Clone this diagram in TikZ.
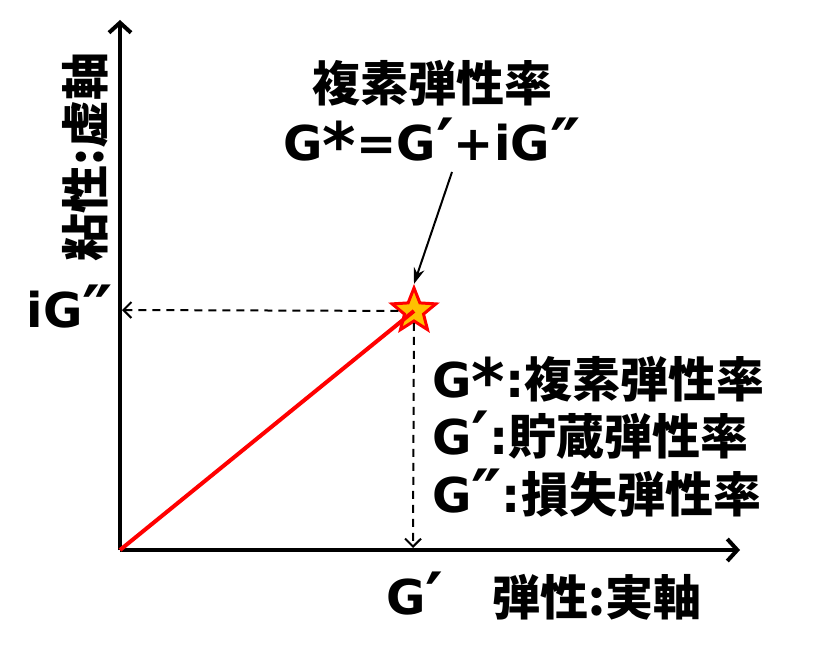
\documentclass[tikz,border=0pt]{standalone}
\usepackage{fontspec}
\setmainfont{DejaVu Sans}
\newfontfamily\jp{Noto Sans CJK JP}
\usetikzlibrary{arrows.meta,shapes.geometric}
\newcommand\pp{{\fontsize{68}{68}\selectfont\smash{\raisebox{-0.1em}{′}}}}
\newcommand\ppp{{\fontsize{68}{68}\selectfont\smash{\raisebox{-0.1em}{″}}}}
\newcommand\myast{{\fontsize{64}{64}\selectfont\smash{\raisebox{-0.12em}{*}}}}
\tikzset{
  lbl/.style={font=\fontsize{48}{52}\selectfont\bfseries, inner sep=0pt},
  legend/.style={lbl, anchor=west, text height=36pt, text depth=2pt},
  axis/.style={line width=4pt, -{Straight Barb[length=10pt,width=22pt,line width=4pt]}},
  guide/.style={line width=2pt, dash pattern=on 8pt off 6pt, -{Straight Barb[length=8pt,width=16pt,line width=2pt]}},
  pointer/.style={line width=2pt, -{Stealth[length=16pt,width=11pt]}},
}
\begin{document}
\begin{tikzpicture}[x=1pt,y=-1pt]
\useasboundingbox (0,0) rectangle (826,652);
\coordinate (O) at (120,550);
\coordinate (ytop) at (120,20);
\coordinate (xend) at (740,550);
\coordinate (yhit) at (122,310);
\coordinate (xhit) at (413,548);
\draw[axis] (O) -- (ytop);
\draw[axis] (O) -- (xend);
\node[star, star points=5, star point ratio=2.3, minimum size=46pt, inner sep=0pt, fill={rgb,255:red,255;green,192;blue,0}, draw=red, line width=3pt] (S) at (414,311) {};
\draw[red, line width=4pt] (O) -- (S.center);
\draw[guide] (S) -- (yhit);
\draw[guide] (S) -- (xhit);
\node[lbl] (t1) at (432,83) {\jp 複素弾性率};
\node[lbl] (t2) at (432,143) {G\myast=G\pp+iG\ppp};
\draw[pointer] (452,172) coordinate (p0) -- (S.north);
\node[lbl] (iG) at (70,310) {iG\ppp};
\node[lbl] (Gp) at (415,597) {G\pp};
\node[lbl] (xl) at (597,597) {\jp 弾性:実軸};
\node[lbl, rotate=90] (yl) at (85,157) {\jp 粘性:虚軸};
\node[legend] (l1) at (432,380) {G\myast:{\jp 複素弾性率}};
\node[legend] (l2) at (432,437) {G\pp:{\jp 貯蔵弾性率}};
\node[legend] (l3) at (432,495) {G\ppp:{\jp 損失弾性率}};
\end{tikzpicture}
\end{document}
